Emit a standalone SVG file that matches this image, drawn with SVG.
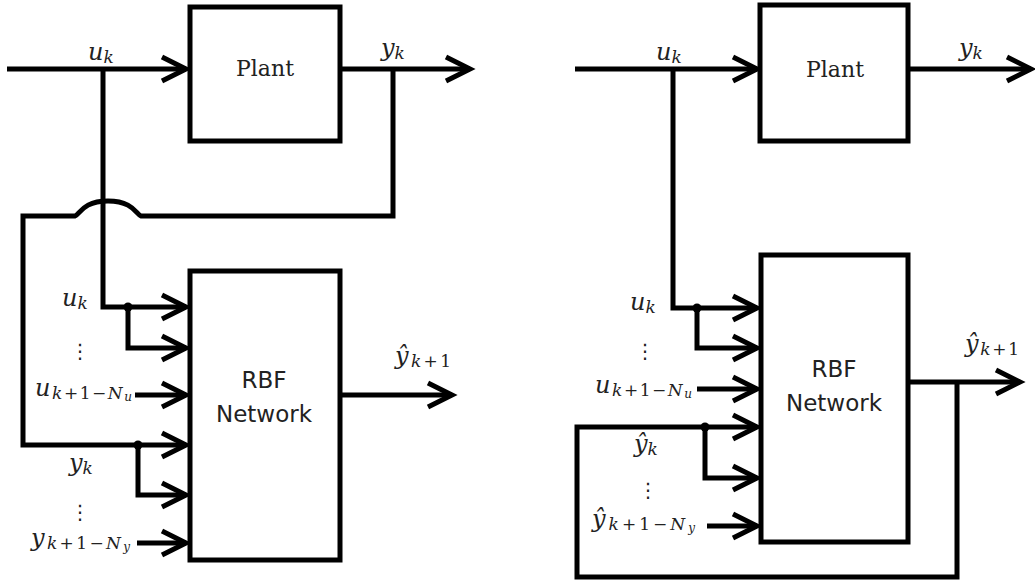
<svg xmlns="http://www.w3.org/2000/svg" width="1035" height="583" viewBox="0 0 1035 583">
<style>
.box{fill:#fff;stroke:#000;stroke-width:5}
.ln{fill:none;stroke:#000;stroke-width:5;stroke-linejoin:miter}
.arr{marker-end:url(#ah)}
.node{font-family:"DejaVu Serif","Liberation Serif",serif;font-size:22px;fill:#222;text-anchor:middle}
.rbf{font-family:"DejaVu Sans","Liberation Sans",sans-serif;font-size:23px;fill:#222;text-anchor:middle}
.m{font-family:"DejaVu Serif","Liberation Serif",serif;font-style:italic;font-size:24px;fill:#222}
.s{font-size:17px}
.ss{font-size:12px}
.up{font-style:normal}
.dots{font-family:"DejaVu Sans",sans-serif;font-size:20px;fill:#222;text-anchor:middle}
.dot{fill:#000}
</style>
<defs>
<marker id="ah" markerUnits="userSpaceOnUse" viewBox="-30 -16 34 32" markerWidth="34" markerHeight="32" refX="0" refY="0" orient="auto" overflow="visible">
<path d="M-24 -12 L0 0 L-24 12" fill="none" stroke="#000" stroke-width="5" stroke-linejoin="miter"/>
</marker>
</defs>
<rect width="1035" height="583" fill="#fff"/>
<g id="connectors">
<path class="ln arr" d="M7 69 H186"/>
<path class="ln arr" d="M103 69 V307 H186"/>
<path class="ln arr" d="M128 307 V348 H186"/>
<path class="ln arr" d="M135 395 H186"/>
<path class="ln arr" d="M340 69 H470"/>
<path class="ln arr" d="M393 69 V216 H141 C136 214 133 201 108 201 C83 201 80 214 75 216 H23 V445 H186"/>
<path class="ln arr" d="M138 445 V495 H186"/>
<path class="ln arr" d="M137 543 H186"/>
<path class="ln arr" d="M340 395 H452"/>
<circle class="dot" cx="128" cy="307" r="4.5"/>
<circle class="dot" cx="138" cy="445" r="4.5"/>
<path class="ln arr" d="M575 69 H757"/>
<path class="ln arr" d="M673 69 V308 H757"/>
<path class="ln arr" d="M697 308 V348 H757"/>
<path class="ln arr" d="M697 389 H757"/>
<path class="ln arr" d="M908 69 H1031"/>
<path class="ln arr" d="M908 382 H1020"/>
<path class="ln arr" d="M957 382 V577 H577 V427 H757"/>
<path class="ln arr" d="M705 427 V478 H757"/>
<path class="ln arr" d="M707 526 H757"/>
<circle class="dot" cx="697" cy="308" r="4.5"/>
<circle class="dot" cx="705" cy="427" r="4.5"/>
</g>
<g id="plant-left">
<rect class="box" x="190" y="7" width="150" height="134"/>
<text class="node" x="265" y="76">Plant</text>
</g>
<g id="rbf-left">
<rect class="box" x="190" y="271" width="150" height="289"/>
<text class="rbf" x="264" y="388">RBF</text>
<text class="rbf" x="264" y="422">Network</text>
</g>
<g id="plant-right">
<rect class="box" x="760" y="5" width="148" height="136"/>
<text class="node" x="835" y="77">Plant</text>
</g>
<g id="rbf-right">
<rect class="box" x="761" y="255" width="147" height="287"/>
<text class="rbf" x="834" y="377">RBF</text>
<text class="rbf" x="834" y="411">Network</text>
</g>
<g id="labels">
<text class="m" x="88" y="60">u<tspan class="s" dy="3">k</tspan></text>
<text class="m" x="381" y="56">y<tspan class="s" dy="3">k</tspan></text>
<text class="m" x="395" y="364" textLength="56">ŷ<tspan class="s" dy="3">k</tspan><tspan class="s up">+1</tspan></text>
<text class="m" x="62" y="306">u<tspan class="s" dy="3">k</tspan></text>
<text class="dots" x="80" y="358">⋮</text>
<text class="m" x="35" y="396" textLength="97">u<tspan class="s" dy="3">k</tspan><tspan class="s up">+1−</tspan><tspan class="s">N</tspan><tspan class="ss" dy="2">u</tspan></text>
<text class="m" x="69" y="471">y<tspan class="s" dy="3">k</tspan></text>
<text class="dots" x="80" y="519">⋮</text>
<text class="m" x="31" y="546" textLength="99">y<tspan class="s" dy="3">k</tspan><tspan class="s up">+1−</tspan><tspan class="s">N</tspan><tspan class="ss" dy="2">y</tspan></text>
<text class="m" x="656" y="60">u<tspan class="s" dy="3">k</tspan></text>
<text class="m" x="959" y="56">y<tspan class="s" dy="3">k</tspan></text>
<text class="m" x="965" y="352" textLength="54">ŷ<tspan class="s" dy="3">k</tspan><tspan class="s up">+1</tspan></text>
<text class="m" x="630" y="310">u<tspan class="s" dy="3">k</tspan></text>
<text class="dots" x="645" y="358">⋮</text>
<text class="m" x="595" y="393" textLength="97">u<tspan class="s" dy="3">k</tspan><tspan class="s up">+1−</tspan><tspan class="s">N</tspan><tspan class="ss" dy="2">u</tspan></text>
<text class="m" x="634" y="452">ŷ<tspan class="s" dy="3">k</tspan></text>
<text class="dots" x="648" y="497">⋮</text>
<text class="m" x="592" y="527" textLength="103">ŷ<tspan class="s" dy="3">k</tspan><tspan class="s up">+1−</tspan><tspan class="s">N</tspan><tspan class="ss" dy="2">y</tspan></text>
</g>
</svg>
